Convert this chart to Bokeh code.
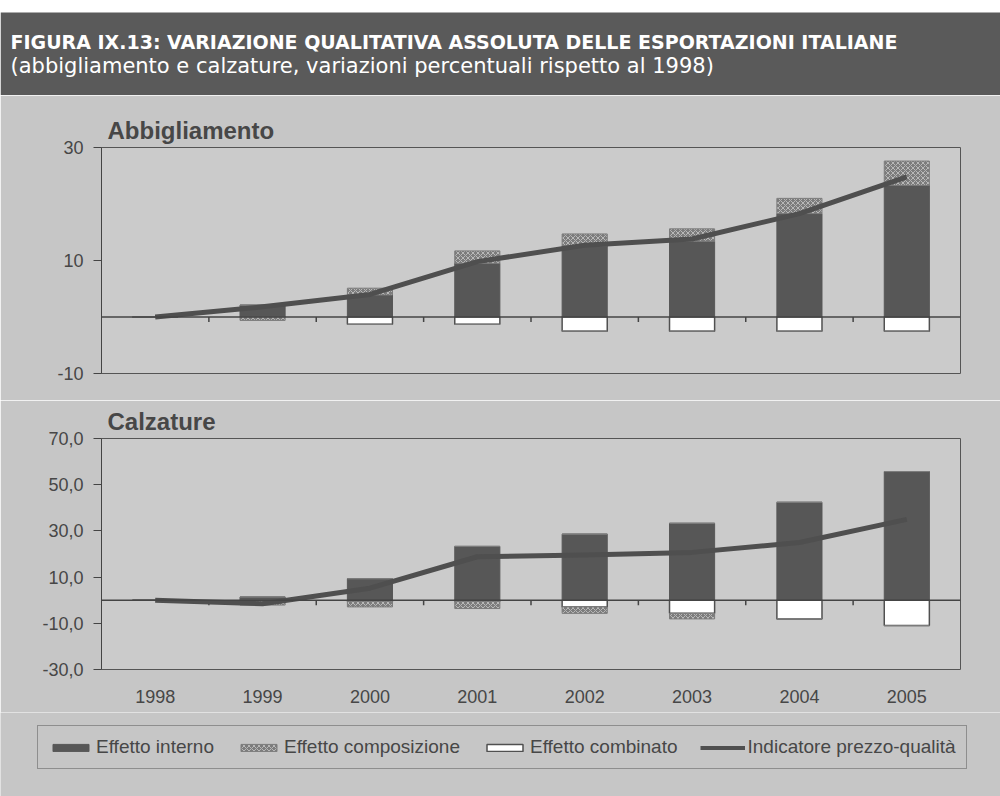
import numpy as np
from bokeh.plotting import figure
from bokeh.models import (Range1d, FixedTicker, CustomJSTickFormatter, Span, BoxAnnotation,
                          Legend, LegendItem, Label)
from bokeh.layouts import column
from bokeh.embed import file_html
from bokeh.resources import INLINE

# ---------------- data ----------------
years = ["1998", "1999", "2000", "2001", "2002", "2003", "2004", "2005"]

abb_interno = [0.0, 2.1, 3.9, 9.5, 12.6, 13.4, 18.3, 23.3]
abb_composizione = [0.0, -0.6, 1.2, 2.2, 2.1, 2.2, 2.7, 4.3]
abb_combinato = [0.0, 0.0, -1.3, -1.3, -2.5, -2.5, -2.5, -2.5]
abb_indicatore = [0.0, 1.8, 4.0, 9.8, 12.7, 13.8, 18.3, 24.8]

calz_interno = [0.0, 1.4, 9.3, 23.3, 28.6, 33.3, 42.4, 55.7]
calz_composizione = [0.0, -2.1, -2.4, -3.1, -2.8, -2.4, 0.0, 0.0]
calz_combinato = [0.0, 0.0, -0.5, -0.5, -2.9, -5.7, -8.1, -11.0]
calz_indicatore = [0.0, -1.5, 5.2, 18.8, 19.6, 20.7, 25.0, 35.0]

abb_ticks = [-10, 10, 30]
calz_ticks = [-30, -10, 10, 30, 50, 70]

title_line1 = "FIGURA IX.13: VARIAZIONE QUALITATIVA ASSOLUTA DELLE ESPORTAZIONI ITALIANE"
title_line2 = "(abbigliamento e calzature, variazioni percentuali rispetto al 1998)"
panel_titles = ["Abbigliamento", "Calzature"]
legend_labels = ["Effetto interno", "Effetto composizione", "Effetto combinato",
                 "Indicatore prezzo-qualità"]

# ---------------- style ----------------
W = 1000
PANEL = "#c6c6c6"
FRAME = "#cbcbcb"
HEADER = "#5a5a5a"
BAR_DARK = "#575757"
COMP_FILL = "#7c7c7c"
COMP_HATCH = "#b8b8b8"
LINE = "#4f4f4f"
TEXT = "#474747"
FONT = "Liberation Sans"

LEFT, FRAME_W = 101, 859
RIGHT = W - LEFT - FRAME_W
BAR_W = 0.42


def build_chart(name, interno, comp, comb, ind, ymin, ymax, ticks, decimals,
                height, top_b, bottom_b, show_x):
    interno = np.array(interno, float)
    comp = np.array(comp, float)
    comb = np.array(comb, float)
    x = np.arange(len(years)) + 0.5

    p = figure(width=W, height=height, x_range=Range1d(0, len(years)),
               y_range=Range1d(ymin, ymax), output_backend="svg",
               toolbar_location=None, min_border_left=LEFT, min_border_right=RIGHT,
               min_border_top=top_b, min_border_bottom=bottom_b,
               background_fill_color=FRAME, border_fill_color=PANEL,
               outline_line_color="#555555", outline_line_width=1)
    p.frame_align = False
    p.xgrid.visible = False
    p.ygrid.visible = False

    # stacking: positives upward (interno, composizione), negatives downward (combinato, composizione)
    int_pos = np.clip(interno, 0, None)
    comp_pos = np.clip(comp, 0, None)
    comb_neg = np.clip(comb, None, 0)
    comp_neg = np.clip(comp, None, 0)

    p.vbar(x=x, bottom=0, top=int_pos, width=BAR_W, fill_color=BAR_DARK,
           line_color=BAR_DARK)
    p.vbar(x=x, bottom=int_pos, top=int_pos + comp_pos, width=BAR_W,
           fill_color=COMP_FILL, line_color=COMP_FILL, hatch_pattern="x",
           hatch_color=COMP_HATCH, hatch_scale=5, hatch_weight=1)
    p.vbar(x=x, bottom=comb_neg, top=0, width=BAR_W, fill_color="white",
           line_color="#505050", line_width=1.5)
    p.vbar(x=x, bottom=comb_neg + comp_neg, top=comb_neg, width=BAR_W,
           fill_color=COMP_FILL, line_color=COMP_FILL, hatch_pattern="x",
           hatch_color=COMP_HATCH, hatch_scale=5, hatch_weight=1)

    p.add_layout(Span(location=0, dimension="width", line_color="#444444", line_width=1.5))

    # category boundary ticks hanging under the zero line
    frame_h = height - top_b - bottom_b
    tick_len = 5.0 * (ymax - ymin) / frame_h
    bx = np.arange(1, len(years))
    p.segment(x0=bx, y0=0, x1=bx, y1=-tick_len, line_color="#444444", line_width=1.5)

    p.line(x, ind, line_width=5, line_color=LINE, line_join="round")

    # y axis
    p.yaxis.ticker = FixedTicker(ticks=ticks)
    p.yaxis.formatter = CustomJSTickFormatter(
        args=dict(d=decimals),
        code="return tick.toFixed(d).replace('.', ',');")
    p.yaxis.major_label_text_font = FONT
    p.yaxis.major_label_text_font_size = "18px"
    p.yaxis.major_label_text_color = TEXT
    p.yaxis.major_tick_out = 8
    p.yaxis.major_tick_in = 0
    p.yaxis.minor_tick_out = 0
    p.yaxis.minor_tick_in = 0
    p.yaxis.major_label_standoff = 10
    p.yaxis.axis_line_color = "#444444"
    p.yaxis.major_tick_line_color = "#444444"

    # x axis
    if show_x:
        p.xaxis.ticker = FixedTicker(ticks=list(x))
        p.xaxis.formatter = CustomJSTickFormatter(
            args=dict(cats=years), code="return cats[Math.floor(tick)];")
        p.xaxis.major_label_text_font = FONT
        p.xaxis.major_label_text_font_size = "18px"
        p.xaxis.major_label_text_color = TEXT
        p.xaxis.major_tick_out = 0
        p.xaxis.major_tick_in = 0
        p.xaxis.minor_tick_out = 0
        p.xaxis.minor_tick_in = 0
        p.xaxis.axis_line_color = None
        p.xaxis.major_label_standoff = 20
    else:
        p.xaxis.visible = False

    p.title.text = name
    p.title.align = "left"
    p.title.offset = 6
    p.title.standoff = 8
    p.title.text_font = FONT
    p.title.text_font_size = "24px"
    p.title.text_font_style = "bold"
    p.title.text_color = TEXT
    return p


# ---------------- header ----------------
HH = 95
head = figure(width=W, height=HH, x_range=Range1d(0, W), y_range=Range1d(0, HH),
              output_backend="svg", toolbar_location=None, min_border=0,
              background_fill_color="white", border_fill_color="white",
              outline_line_color=None)
head.frame_align = False
head.axis.visible = False
head.xgrid.visible = False
head.ygrid.visible = False
head.add_layout(BoxAnnotation(left=0, right=W, bottom=0, top=HH - 12,
                              fill_color=HEADER, fill_alpha=1, line_color=None))
head.add_layout(Label(x=10, y=HH - 41, text=title_line1, text_color="white",
                      text_font="DejaVu Sans", text_font_style="bold",
                      text_font_size="19px", text_baseline="middle"))
head.add_layout(Label(x=10, y=HH - 65, text=title_line2, text_color="white",
                      text_font="DejaVu Sans", text_font_size="21px",
                      text_baseline="middle"))

# ---------------- charts ----------------
top = build_chart(panel_titles[0], abb_interno, abb_composizione, abb_combinato,
                  abb_indicatore, -10, 30, abb_ticks, 0,
                  height=305, top_b=52, bottom_b=27, show_x=False)
bottom = build_chart(panel_titles[1], calz_interno, calz_composizione, calz_combinato,
                     calz_indicatore, -30, 70, calz_ticks, 1,
                     height=312, top_b=38, bottom_b=43, show_x=True)

# ---------------- legend ----------------
LH = 84
lg = figure(width=W, height=LH, x_range=Range1d(0, 1), y_range=Range1d(0, 1),
            output_backend="svg", toolbar_location=None, min_border=0,
            background_fill_color=PANEL, border_fill_color=PANEL, outline_line_color=None)
lg.frame_align = False
lg.axis.visible = False
lg.xgrid.visible = False
lg.ygrid.visible = False
nan = [float("nan")]
r1 = lg.vbar(x=nan, top=nan, width=0.1, fill_color=BAR_DARK, line_color=BAR_DARK)
r2 = lg.vbar(x=nan, top=nan, width=0.1, fill_color=COMP_FILL, line_color=COMP_FILL,
             hatch_pattern="x", hatch_color=COMP_HATCH, hatch_scale=5, hatch_weight=1)
r3 = lg.vbar(x=nan, top=nan, width=0.1, fill_color="white", line_color="#505050",
             line_width=1.5)
r4 = lg.line(x=nan, y=nan, line_width=4, line_color=LINE)
legend = Legend(items=[LegendItem(label=legend_labels[i], renderers=[r])
                       for i, r in enumerate([r1, r2, r3, r4])],
                orientation="horizontal", location=(37, 27),
                glyph_width=45, glyph_height=9, label_standoff=3, spacing=22,
                padding=10, label_text_font=FONT, label_text_font_size="19px",
                label_text_color=TEXT, border_line_color="#555555",
                border_line_width=1.5, background_fill_color=PANEL,
                background_fill_alpha=1)
lg.add_layout(legend)

layout = column(head, top, bottom, lg, spacing=0)
open("out.html", "w").write(file_html(layout, INLINE))
